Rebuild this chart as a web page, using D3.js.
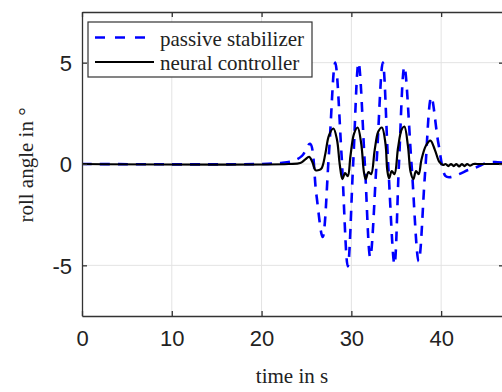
<!DOCTYPE html>
<html>
<head>
<meta charset="utf-8">
<script src="https://cdn.jsdelivr.net/npm/d3@7"></script>
<style>
  body { margin: 0; background: #fff; }
  svg { display: block; }
</style>
</head>
<body>
<div id="chart"></div>
<script>
// roll angle time series
const passiveTime = [0, 20, 22, 23.5, 24.5, 25.4, 26.1, 26.8, 27.5, 28.2, 28.9, 29.6, 30.2, 30.8, 31.5, 32.1, 32.8, 33.5, 34.1, 34.8, 35.3, 35.9, 36.7, 37.5, 38.2, 38.9, 39.7, 40.5, 41, 42, 43, 44, 45, 46, 47];
const passiveAngle = [0, 0, 0.05, 0.15, 0.4, 1.0, -1.5, -3.6, 0.5, 5.0, 0.5, -5.05, 0, 5.0, 0, -4.6, 0, 5.0, 0, -4.95, 0, 4.8, 0, -4.8, -0.5, 3.3, 1.0, -0.6, -0.65, -0.5, -0.3, -0.15, 0.05, 0.1, 0.05];

const neuralTime = [0, 23, 24.3, 24.8, 25.3, 25.7, 26.0, 26.4, 26.7, 27.1, 27.5, 28.0, 28.4, 28.7, 29.0, 29.3, 29.6, 29.9, 30.3, 30.7, 31.1, 31.4, 31.6, 31.9, 32.2, 32.6, 33.0, 33.4, 33.8, 34.0, 34.2, 34.5, 34.8, 35.2, 35.6, 35.9, 36.3, 36.6, 36.9, 37.2, 37.5, 37.8, 38.3, 38.8, 39.3, 39.8, 40.2, 40.5, 40.8, 41.1, 41.4, 41.7, 42.0, 42.3, 42.6, 42.9, 43.2, 43.6, 44.0, 47];
const neuralAngle = [0, 0, 0.05, 0.2, 0.35, 0.05, -0.3, -0.3, -0.2, 0.5, 1.4, 1.75, 1.2, 0.0, -0.75, -0.45, -0.6, 0.4, 1.5, 1.8, 1.0, -0.4, -0.75, -0.4, -0.5, 0.7, 1.6, 1.8, 1.0, -0.3, -0.7, -0.35, -0.5, 0.8, 1.7, 1.85, 0.9, -0.4, -0.75, -0.35, -0.5, 0.2, 0.9, 1.15, 0.7, 0.1, -0.05, 0.0, -0.1, 0, -0.1, 0, -0.12, 0, -0.1, 0, -0.08, 0, 0, 0];

const xTicks = [0, 10, 20, 30, 40];
const yTicks = [-5, 0, 5];
const legendLabels = ["passive stabilizer", "neural controller"];

const W = 502, H = 392;
const margin = {top: 12, right: -2, bottom: 76, left: 82};
const width = W - margin.left - margin.right,
      height = H - margin.top - margin.bottom;

const svg = d3.select("#chart").append("svg")
  .attr("width", W)
  .attr("height", H);

const g = svg.append("g")
  .attr("transform", "translate(" + margin.left + "," + margin.top + ")");

const x = d3.scaleLinear().domain([0, 47]).range([0, width]);
const y = d3.scaleLinear().domain([-7.5, 7.5]).range([height, 0]);

// grid
g.append("g").selectAll("line").data(xTicks.slice(1)).join("line")
  .attr("x1", d => x(d)).attr("x2", d => x(d))
  .attr("y1", 0).attr("y2", height)
  .attr("stroke", "#e3e3e3").attr("stroke-width", 1);
g.append("g").selectAll("line").data(yTicks).join("line")
  .attr("x1", 0).attr("x2", width)
  .attr("y1", d => y(d)).attr("y2", d => y(d))
  .attr("stroke", "#e3e3e3").attr("stroke-width", 1);

g.append("clipPath").attr("id", "clip")
  .append("rect").attr("width", width).attr("height", height);

const line = d3.line()
  .x(d => x(d[0]))
  .y(d => y(d[1]))
  .curve(d3.curveCatmullRom.alpha(0.5));

g.append("path")
  .datum(d3.zip(passiveTime, passiveAngle))
  .attr("clip-path", "url(#clip)")
  .attr("d", line)
  .attr("fill", "none")
  .attr("stroke", "#0000ff")
  .attr("stroke-width", 2.6)
  .attr("stroke-dasharray", "10,8");

g.append("path")
  .datum(d3.zip(neuralTime, neuralAngle))
  .attr("clip-path", "url(#clip)")
  .attr("d", line)
  .attr("fill", "none")
  .attr("stroke", "#000")
  .attr("stroke-width", 2.2);

// axes (box with inward ticks)
const axColor = "#333";
const fmt = d => String(d);
const xAxis = g.append("g")
  .attr("transform", "translate(0," + height + ")")
  .call(d3.axisBottom(x).tickValues(xTicks).tickFormat(fmt).tickSizeInner(-5).tickSizeOuter(0).tickPadding(14));
const xTop = g.append("g")
  .call(d3.axisTop(x).tickValues(xTicks).tickSizeInner(-5).tickSizeOuter(0).tickFormat(""));
const yAxis = g.append("g")
  .call(d3.axisLeft(y).tickValues(yTicks).tickFormat(fmt).tickSizeInner(-5).tickSizeOuter(0).tickPadding(10));
const yRight = g.append("g")
  .attr("transform", "translate(" + width + ",0)")
  .call(d3.axisRight(y).tickValues(yTicks).tickSizeInner(-5).tickSizeOuter(0).tickFormat(""));

[xAxis, xTop, yAxis, yRight].forEach(a => {
  a.select(".domain").attr("stroke", axColor).attr("stroke-width", 1.3);
  a.selectAll(".tick line").attr("stroke", axColor).attr("stroke-width", 1.3);
  a.selectAll("text")
    .attr("font-family", "Liberation Sans, Arial, sans-serif")
    .attr("font-size", 22)
    .attr("fill", "#222");
});
yAxis.selectAll("text").attr("dy", "0.36em");

// axis labels
svg.append("text")
  .attr("x", 292).attr("y", 383)
  .attr("text-anchor", "middle")
  .attr("font-family", "Liberation Serif, Times New Roman, serif")
  .attr("font-size", 21)
  .attr("fill", "#222")
  .text("time in s");

svg.append("text")
  .attr("transform", "translate(33,165) rotate(-90)")
  .attr("text-anchor", "middle")
  .attr("font-family", "Liberation Serif, Times New Roman, serif")
  .attr("font-size", 21)
  .attr("fill", "#222")
  .text("roll angle in °");

// legend
const legend = svg.append("g").attr("transform", "translate(88,22)");
legend.append("rect")
  .attr("width", 224).attr("height", 55)
  .attr("fill", "#fff").attr("stroke", "#333").attr("stroke-width", 1.2);
const styles = [
  {stroke: "#0000ff", w: 2.6, dash: "10,10"},
  {stroke: "#000", w: 2.2, dash: null}
];
legendLabels.forEach((lab, i) => {
  const yy = 15.5 + i * 24.5;
  legend.append("line")
    .attr("x1", 7).attr("x2", 66).attr("y1", yy).attr("y2", yy)
    .attr("stroke", styles[i].stroke).attr("stroke-width", styles[i].w)
    .attr("stroke-dasharray", styles[i].dash);
  legend.append("text")
    .attr("x", 72).attr("y", yy + 8)
    .attr("font-family", "Liberation Serif, Times New Roman, serif")
    .attr("font-size", 21)
    .attr("fill", "#222")
    .text(lab);
});
</script>
</body>
</html>
